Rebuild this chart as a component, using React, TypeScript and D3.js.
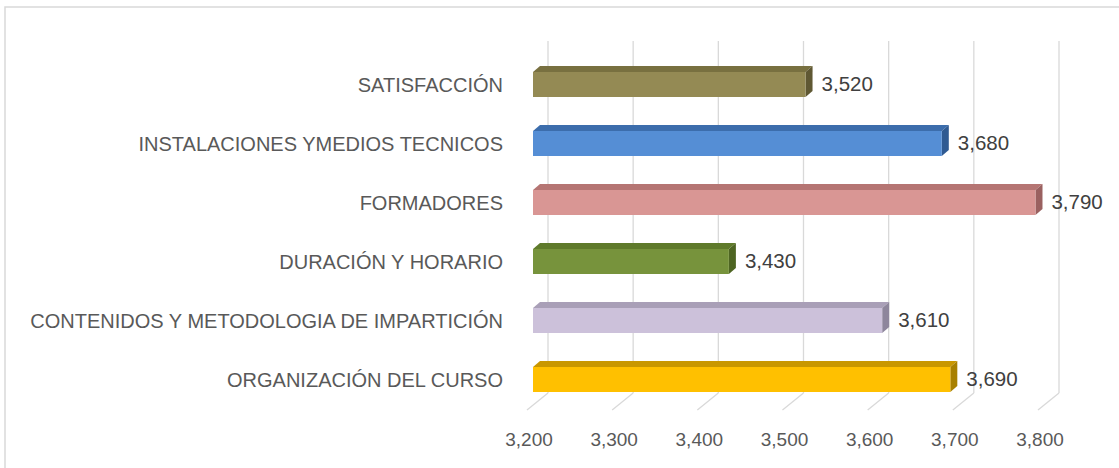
import React from "react";
import * as d3 from "d3";

const categories = [
  "ORGANIZACIÓN DEL CURSO",
  "CONTENIDOS Y METODOLOGIA DE IMPARTICIÓN",
  "DURACIÓN Y HORARIO",
  "FORMADORES",
  "INSTALACIONES YMEDIOS TECNICOS",
  "SATISFACCIÓN",
];
const values = [3690, 3610, 3430, 3790, 3680, 3520];
const valueLabels = ["3,690", "3,610", "3,430", "3,790", "3,680", "3,520"];
const tickValues = [3200, 3300, 3400, 3500, 3600, 3700, 3800];
const tickLabels = ["3,200", "3,300", "3,400", "3,500", "3,600", "3,700", "3,800"];

const frontColors = ["#FFC000", "#CCC1DA", "#77933C", "#D99694", "#558ED5", "#948A54"];
const topColors = ["#C99700", "#A99FB7", "#5F7A2B", "#B57573", "#3C6DAC", "#787040"];
const sideColors = ["#A88000", "#8E869C", "#4E6522", "#9A6160", "#2F5A92", "#5F5833"];

const W = 1119;
const H = 468;
const DX = 7;
const DY = -6;
const BAR_H = 25;

export default function App() {
  const x = d3.scaleLinear().domain([3200, 3800]).range([533, 1044]);
  const order = categories.map((_, i) => i).reverse(); // top to bottom
  const yc = d3
    .scalePoint<number>()
    .domain(order)
    .range([84.5, 84.5 + 59 * 5]);

  const gridTop = 41;
  const gridBottom = 393;
  const back = (v: number) => x(v) + 15;

  return (
    <svg
      width={W}
      height={H}
      style={{ position: "absolute", left: 0, top: 0, background: "#fff" }}
      fontFamily="'Liberation Sans', Arial, sans-serif"
    >
      <rect x={5} y={7} width={W + 10} height={H + 10} fill="#fff" stroke="#d9d9d9" strokeWidth={1.5} />
      {tickValues.map((t) => (
        <g key={t}>
          <line x1={back(t)} x2={back(t)} y1={gridTop} y2={gridBottom} stroke="#d9d9d9" strokeWidth={1.3} />
          <line x1={back(t)} x2={back(t) - 21} y1={gridBottom} y2={gridBottom + 17} stroke="#d9d9d9" strokeWidth={1.3} />
        </g>
      ))}
      {tickValues.map((t, i) => (
        <text key={"t" + t} x={x(t) - 4} y={446} textAnchor="middle" fontSize={19} fill="#595959">
          {tickLabels[i]}
        </text>
      ))}
      {categories.map((c, i) => {
        const cy = yc(i) as number;
        const y0 = cy - BAR_H / 2;
        const x0 = x(3200);
        const x1 = x(values[i]);
        return (
          <g key={c}>
            <polygon
              points={`${x0},${y0} ${x0 + DX},${y0 + DY} ${x1 + DX},${y0 + DY} ${x1},${y0}`}
              fill={topColors[i]}
            />
            <polygon
              points={`${x1},${y0} ${x1 + DX},${y0 + DY} ${x1 + DX},${y0 + BAR_H + DY} ${x1},${y0 + BAR_H}`}
              fill={sideColors[i]}
            />
            <rect x={x0} y={y0} width={x1 - x0} height={BAR_H} fill={frontColors[i]} />
            <text x={503} y={y0 + 20} textAnchor="end" fontSize={20} fill="#595959">
              {c}
            </text>
            <text x={x1 + 16} y={y0 + 19} fontSize={20.5} fill="#404040">
              {valueLabels[i]}
            </text>
          </g>
        );
      })}
    </svg>
  );
}
